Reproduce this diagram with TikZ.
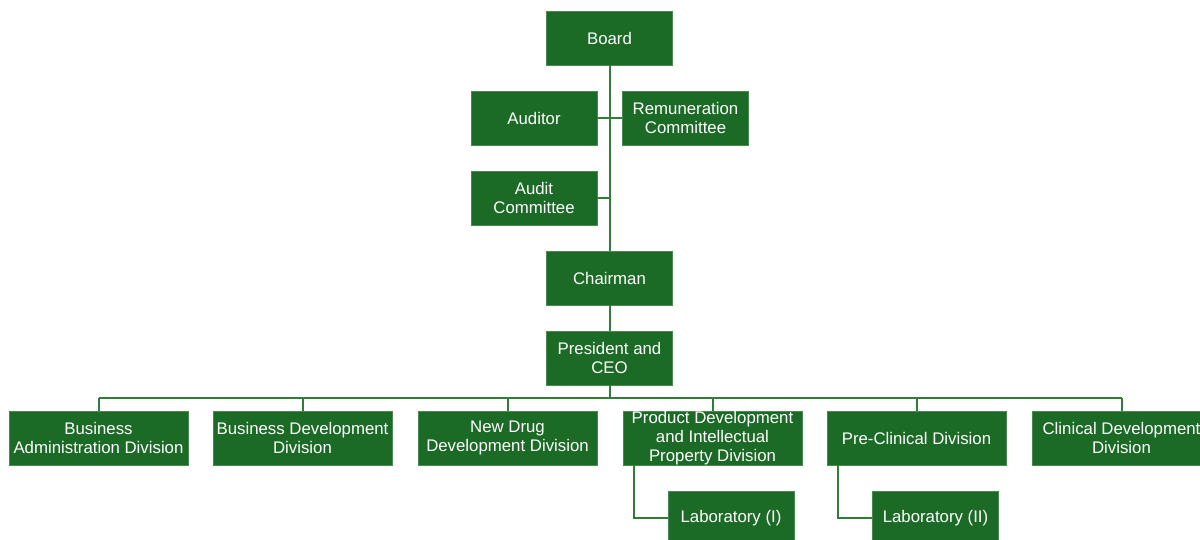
\documentclass[tikz,border=0pt]{standalone}
\usepackage{fontspec}
\setmainfont{Liberation Sans}
\usetikzlibrary{positioning}

\definecolor{boxgreen}{HTML}{1B6A25}
\definecolor{linegreen}{HTML}{2F7D37}

\tikzset{
  unit/.style={draw=boxgreen!80!white, line width=0.4pt, fill=boxgreen, text=white,
    font=\fontsize{8.4}{9.5}\selectfont, align=center, inner sep=0pt,
    minimum width=63pt, minimum height=27pt},
  division/.style={unit, minimum width=89.5pt},
  link/.style={draw=linegreen, line width=1pt}
}

\begin{document}
\begin{tikzpicture}[x=0.5pt, y=-0.5pt]
\useasboundingbox (0,0) rectangle (1200,540);

\node[unit] (board) at (609.5,38) {Board};
\node[unit] (auditor) at (534,118) {Auditor};
\node[unit] (remun) at (685.5,118) {Remuneration\\Committee};
\node[unit] (auditcom) at (534,198) {Audit\\Committee};
\node[unit] (chairman) at (609.5,278) {Chairman};
\node[unit] (ceo) at (609.5,358) {President and\\CEO};

\node[division] (busadm) at (98.5,438) {Business\\Administration Division};
\node[division] (busdev) at (302.5,438) {Business Development\\Division};
\node[division] (newdrug) at (507.5,438) {New Drug\\Development Division};
\node[division] (proddev) at (712.5,438) {Product Development\\and Intellectual\\Property Division};
\node[division] (precli) at (916.5,438) {Pre-Clinical Division};
\node[division] (clidev) at (1121.5,438) {Clinical Development\\Division};

\node[unit] (lab1) at (731,518) {Laboratory (I)};
\node[unit] (lab2) at (935.5,518) {Laboratory (II)};

% board line
\draw[link] (board.south) -- (chairman.north);
\draw[link] (auditor.east) -- (remun.west);
\draw[link] (auditcom.east) -- (auditcom.east -| board.south);
\draw[link] (chairman.south) -- (ceo.north);

% divisions
\coordinate (bus) at (609.5,398);
\draw[link] (ceo.south) -- (bus);
\draw[link] (bus -| busadm.north) -- (bus -| clidev.north);
\foreach \d in {busadm,busdev,newdrug,proddev,precli,clidev}
  \draw[link] (bus -| \d.north) -- (\d.north);

% labs
\draw[link] ([xshift=5.5pt]proddev.south west) |- (lab1.west);
\draw[link] ([xshift=5.5pt]precli.south west) |- (lab2.west);

\end{tikzpicture}
\end{document}
